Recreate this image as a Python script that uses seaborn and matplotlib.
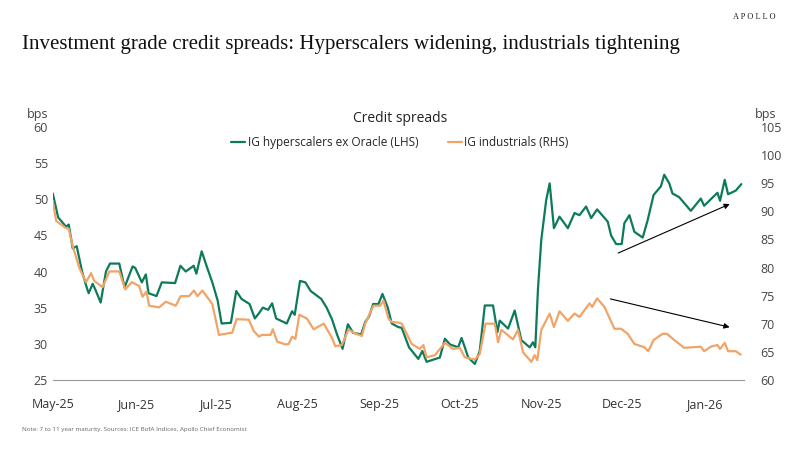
import matplotlib
matplotlib.use("Agg")
import matplotlib.pyplot as plt
import seaborn as sns
import pandas as pd

# day offsets from 2025-05-01 and spreads (bps)
green_days = [0, 2, 5, 6, 7.5, 9, 11, 13, 13.5, 15, 16, 18, 20, 21.5, 25, 27, 30, 31, 33.5, 35, 36, 39, 41,
              46, 48, 50, 53, 54, 56, 58, 60, 62, 63.5, 67, 69, 71, 74, 76, 77.5, 79, 81, 82.5, 84, 88, 90,
              91, 93, 95, 97, 101, 103, 105, 107, 109, 111, 113, 116, 117.5, 119, 120.5, 122.5, 124, 126,
              127.5, 130, 131.25, 134, 137.5, 139, 140.6, 144, 145.6, 147.5, 149.4, 152.5, 153.75, 155,
              156.25, 158.75, 160.6, 162.5, 165.6, 167.25, 168.1, 171.25, 173.75, 176.25, 179.4, 180.6,
              181.5, 182.5, 183.75, 185.6, 186.9, 188.5, 190.6, 193.75, 196.25, 198.1, 200.6, 202.5, 204.75,
              208.75, 210, 211.9, 214, 215, 216.9, 218.75, 221.9, 223.75, 226, 228.75, 230, 231.9, 233.1,
              235.6, 240, 243.75, 245, 247.5, 250, 251, 252.75, 254, 256.9, 259]
green_vals = [50.8, 47.5, 46.2, 46.5, 43.2, 43.5, 40.0, 37.5, 37.0, 38.3, 37.5, 35.7, 40.0, 41.1, 41.1, 37.8,
              40.7, 40.5, 38.5, 39.6, 37.0, 36.6, 38.5, 38.4, 40.8, 40.0, 40.8, 39.7, 42.8, 40.6, 38.5, 36.0,
              32.8, 32.9, 37.3, 36.2, 35.5, 33.5, 34.2, 35.0, 34.7, 35.6, 33.5, 32.8, 34.5, 34.0, 38.7, 38.5,
              37.3, 36.2, 35.0, 33.4, 31.2, 29.3, 32.7, 31.5, 31.3, 33.0, 33.8, 35.5, 35.5, 36.9, 35.0, 32.8,
              32.3, 32.2, 29.5, 27.9, 29.0, 27.5, 27.9, 28.1, 30.7, 29.9, 29.5, 30.8, 29.5, 28.1, 27.2, 29.0,
              35.3, 35.3, 31.6, 33.2, 32.1, 34.6, 30.5, 29.5, 30.2, 29.5, 37.6, 44.4, 49.9, 52.2, 46.0, 47.6,
              46.0, 48.1, 47.8, 49.0, 47.4, 48.6, 46.9, 45.0, 43.8, 43.8, 46.7, 47.8, 45.5, 44.7, 47.1, 50.6,
              51.8, 53.4, 52.2, 50.8, 50.3, 48.4, 50.1, 49.1, 50.0, 50.9, 49.8, 52.7, 50.7, 51.2, 52.1]

orange_days = [0, 1.25, 5, 6, 7.5, 10, 12.5, 14.4, 15.6, 18.75, 21.25, 25, 27.25, 29.75, 32.5, 33.75, 35.25,
               36.25, 40, 42.5, 46.25, 48.1, 51.25, 53.1, 54.4, 56.25, 60, 62.5, 67.5, 69.1, 73.75, 75.6,
               77.5, 78.75, 81.9, 82.75, 84.4, 87.5, 88.75, 90, 91.25, 92.75, 95.6, 98.1, 101.9, 105,
               106.25, 108.75, 111.25, 113.1, 116.25, 117.5, 120.6, 123.1, 124.4, 126.25, 127.5, 130,
               131.25, 135, 138.1, 139.4, 140.6, 143.75, 147.5, 150.6, 153.1, 155, 158.75, 160.6, 162.75,
               166.25, 167.5, 168.75, 173.1, 175, 176.9, 180, 181.25, 182.25, 183.75, 186.9, 188.5, 190.6,
               193.75, 196.25, 198.1, 201.9, 202.9, 204.75, 207.5, 211.25, 213.75, 216.25, 218.75, 222.5,
               224, 226, 229.4, 231, 233.75, 237.5, 243.75, 245, 247.5, 250, 251, 252.75, 254, 256.9, 258.75]
orange_vals = [91.8, 88.3, 87.0, 86.9, 83.8, 79.9, 77.4, 79.0, 77.6, 76.5, 79.3, 79.3, 76.1, 77.4, 76.7, 74.8,
               75.7, 73.2, 72.9, 73.9, 73.2, 74.9, 74.9, 75.9, 74.9, 75.9, 73.5, 68.0, 68.4, 70.8, 70.7, 68.7,
               67.7, 68.0, 68.0, 69.0, 66.8, 66.3, 66.4, 67.7, 67.3, 71.6, 70.9, 69.0, 70.0, 67.5, 66.0, 66.2,
               69.0, 68.4, 67.8, 70.0, 73.2, 73.2, 74.1, 70.9, 70.3, 70.2, 70.0, 66.4, 65.5, 66.2, 64.0,
               64.4, 66.6, 65.5, 65.7, 64.0, 63.6, 64.6, 70.0, 70.0, 66.7, 68.9, 67.2, 68.9, 64.9, 63.2,
               64.4, 63.5, 68.9, 71.8, 69.4, 72.2, 70.5, 71.8, 71.2, 73.6, 73.0, 74.5, 73.0, 69.1, 69.1,
               68.2, 66.4, 65.8, 65.1, 67.1, 68.2, 68.2, 67.1, 65.7, 65.9, 65.1, 65.9, 66.2, 65.5, 66.6,
               65.1, 65.1, 64.5]

month_days = [0, 31, 61, 92, 123, 153, 184, 214, 245]
month_labels = ['May-25', 'Jun-25', 'Jul-25', 'Aug-25', 'Sep-25', 'Oct-25', 'Nov-25', 'Dec-25', 'Jan-26']

GREEN = '#0c7b5b'
ORANGE = '#f2a366'

sns.set_style('white')
plt.rcParams['font.family'] = ['Open Sans', 'DejaVu Sans']

green = pd.DataFrame({'day': green_days, 'val': green_vals})
orange = pd.DataFrame({'day': orange_days, 'val': orange_vals})

fig = plt.figure(figsize=(8, 4.49), dpi=100)
ax = fig.add_axes([0.066, 0.154, 0.864, 0.563])
ax2 = ax.twinx()

sns.lineplot(data=green, x='day', y='val', ax=ax, color=GREEN, linewidth=1.6,
             label='IG hyperscalers ex Oracle (LHS)', legend=False)
sns.lineplot(data=orange, x='day', y='val', ax=ax2, color=ORANGE, linewidth=1.6,
             label='IG industrials (RHS)', legend=False)

ax.set_xlim(0, 260)
ax.set_ylim(25, 60)
ax2.set_ylim(60, 105)
ax.set_yticks(range(25, 61, 5))
ax2.set_yticks(range(60, 106, 5))
ax.set_xticks(month_days)
ax.set_xticklabels(month_labels)
ax.set_xlabel('')
ax.set_ylabel('')
ax2.set_ylabel('')

for a in (ax, ax2):
    for s in a.spines.values():
        s.set_visible(False)
ax.spines['bottom'].set_visible(True)
ax.spines['bottom'].set_color('#999999')
ax.tick_params(axis='x', length=5, color='#999999', labelsize=9, pad=8, colors='#333333')
ax.tick_params(axis='y', length=0, labelsize=9, colors='#444444')
ax2.tick_params(axis='y', length=0, labelsize=9, colors='#444444', pad=12)

# trend arrows
ax.annotate('', xy=(255.6, 49.5), xytext=(211.7, 42.4),
            arrowprops=dict(arrowstyle='-|>', color='black', lw=0.8, mutation_scale=8))
ax.annotate('', xy=(255.6, 32.2), xytext=(208.7, 36.3),
            arrowprops=dict(arrowstyle='-|>', color='black', lw=0.8, mutation_scale=8))

h1, l1 = ax.get_legend_handles_labels()
h2, l2 = ax2.get_legend_handles_labels()
fig.legend(h1 + h2, l1 + l2, loc='center', bbox_to_anchor=(0.5, 0.682), ncol=2, frameon=False,
           fontsize=8.5, handlelength=1.2, handletextpad=0.2, columnspacing=2.5)

fig.text(0.5, 0.735, 'Credit spreads', ha='center', va='center', fontsize=10, color='#222222')
fig.text(0.033, 0.745, 'bps', ha='left', va='center', fontsize=9, color='#444444')
fig.text(0.943, 0.745, 'bps', ha='left', va='center', fontsize=9, color='#444444')
fig.text(0.027, 0.9, 'Investment grade credit spreads: Hyperscalers widening, industrials tightening',
         ha='left', va='center', fontsize=15, family=['Liberation Serif', 'DejaVu Serif'], color='#111111')
fig.text(0.97, 0.963, 'A P O L L O', ha='right', va='center', fontsize=6,
         family=['Liberation Serif', 'DejaVu Serif'], color='#222222')
fig.text(0.027, 0.043, 'Note: 7 to 11 year maturity. Sources: ICE BofA Indices, Apollo Chief Economist',
         ha='left', va='center', fontsize=4.5, color='#666666')

fig.savefig('out.png', dpi=100)
